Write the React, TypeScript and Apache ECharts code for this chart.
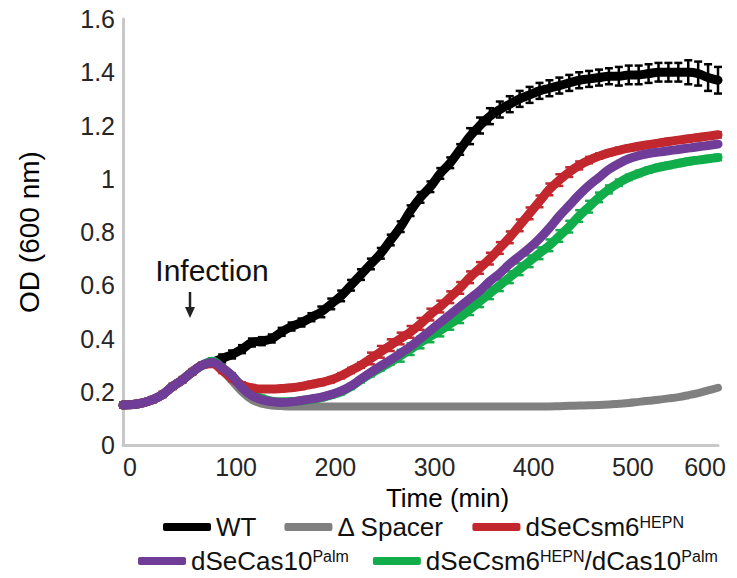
import React, { useEffect, useRef } from "react";
import * as echarts from "echarts";

const timeMin = [
  0, 10, 20, 30, 40, 50, 60, 70, 80, 90, 100, 110, 120, 130, 140, 150, 160, 170, 180, 190,
  200, 210, 220, 230, 240, 250, 260, 270, 280, 290, 300, 310, 320, 330, 340, 350, 360, 370,
  380, 390, 400, 410, 420, 430, 440, 450, 460, 470, 480, 490, 500, 510, 520, 530, 540, 550,
  560, 570, 580, 590, 600,
];

const wt = [
  0.15, 0.152, 0.158, 0.17, 0.19, 0.22, 0.245, 0.275, 0.3, 0.31, 0.325, 0.34, 0.36, 0.385,
  0.39, 0.4, 0.425, 0.445, 0.46, 0.48, 0.5, 0.53, 0.56, 0.6, 0.64, 0.68, 0.72, 0.77, 0.82,
  0.88, 0.93, 0.97, 1.02, 1.06, 1.11, 1.16, 1.2, 1.235, 1.26, 1.28, 1.3, 1.315, 1.33, 1.34,
  1.35, 1.36, 1.37, 1.375, 1.38, 1.385, 1.385, 1.39, 1.39, 1.395, 1.4, 1.4, 1.4, 1.4, 1.395,
  1.38, 1.37,
];
const wtErr = [
  0.006, 0.006, 0.006, 0.006, 0.006, 0.006, 0.006, 0.006, 0.006, 0.015, 0.015, 0.015, 0.015,
  0.015, 0.015, 0.015, 0.015, 0.015, 0.015, 0.015, 0.02, 0.02, 0.02, 0.02, 0.02, 0.02, 0.02,
  0.02, 0.02, 0.02, 0.02, 0.02, 0.02, 0.02, 0.02, 0.03, 0.03, 0.03, 0.03, 0.03, 0.03, 0.03,
  0.03, 0.03, 0.03, 0.03, 0.03, 0.03, 0.03, 0.03, 0.035, 0.035, 0.035, 0.035, 0.035, 0.035,
  0.035, 0.045, 0.045, 0.05, 0.05,
];
const spacer = [
  0.15, 0.152, 0.158, 0.17, 0.19, 0.22, 0.245, 0.275, 0.3, 0.305, 0.28, 0.24, 0.2, 0.17, 0.155,
  0.148, 0.146, 0.145, 0.145, 0.145, 0.145, 0.145, 0.145, 0.145, 0.145, 0.145, 0.145, 0.145,
  0.145, 0.145, 0.145, 0.145, 0.145, 0.145, 0.145, 0.145, 0.145, 0.145, 0.145, 0.145, 0.145,
  0.145, 0.145, 0.145, 0.146, 0.147, 0.148, 0.149, 0.15, 0.152, 0.155, 0.158, 0.162, 0.166,
  0.17, 0.175, 0.18, 0.187, 0.195, 0.205, 0.215,
];
const csm6 = [
  0.15, 0.152, 0.158, 0.17, 0.19, 0.22, 0.245, 0.275, 0.3, 0.305, 0.28, 0.25, 0.225, 0.215,
  0.21, 0.21, 0.212, 0.215, 0.22, 0.228, 0.235, 0.245, 0.26, 0.28, 0.3, 0.325, 0.35, 0.375,
  0.4, 0.425, 0.455, 0.49, 0.52, 0.555, 0.59, 0.63, 0.665, 0.7, 0.74, 0.78, 0.825, 0.87, 0.915,
  0.96, 0.995, 1.025, 1.05, 1.07, 1.085, 1.097, 1.107, 1.115, 1.122, 1.128, 1.134, 1.14, 1.145,
  1.15, 1.155, 1.16, 1.165,
];
const csm6Err = [
  0.01, 0.01, 0.01, 0.01, 0.01, 0.01, 0.01, 0.01, 0.01, 0.01, 0.01, 0.01, 0.01, 0.01, 0.01,
  0.01, 0.01, 0.01, 0.01, 0.01, 0.01, 0.01, 0.01, 0.01, 0.01, 0.022, 0.022, 0.022, 0.022,
  0.022, 0.022, 0.022, 0.022, 0.022, 0.022, 0.022, 0.022, 0.022, 0.022, 0.022, 0.022, 0.022,
  0.022, 0.022, 0.022, 0.018, 0.015, 0.012, 0.01, 0.01, 0.01, 0.01, 0.01, 0.01, 0.01, 0.01,
  0.01, 0.01, 0.01, 0.01, 0.01,
];
const cas10 = [
  0.15, 0.152, 0.158, 0.17, 0.19, 0.22, 0.245, 0.275, 0.3, 0.31, 0.29, 0.26, 0.215, 0.185,
  0.17, 0.163, 0.16, 0.162, 0.167, 0.173, 0.18, 0.19, 0.203, 0.222, 0.248, 0.273, 0.297,
  0.32, 0.345, 0.37, 0.4, 0.43, 0.46, 0.49, 0.52, 0.55, 0.58, 0.615, 0.645, 0.68, 0.71, 0.74,
  0.775, 0.815, 0.86, 0.9, 0.94, 0.975, 1.005, 1.035, 1.057, 1.075, 1.087, 1.095, 1.1, 1.105,
  1.11, 1.115, 1.12, 1.125, 1.13,
];
const double = [
  0.15, 0.152, 0.158, 0.17, 0.19, 0.22, 0.245, 0.275, 0.3, 0.315, 0.29, 0.26, 0.22, 0.19,
  0.175, 0.165, 0.162, 0.163, 0.167, 0.172, 0.178, 0.188, 0.2, 0.22, 0.245, 0.268, 0.29, 0.312,
  0.335, 0.36, 0.385, 0.408, 0.43, 0.455, 0.48, 0.51, 0.54, 0.57, 0.6, 0.63, 0.66, 0.69, 0.72,
  0.75, 0.785, 0.82, 0.86, 0.895, 0.93, 0.96, 0.985, 1.005, 1.02, 1.033, 1.043, 1.05, 1.058,
  1.065, 1.07, 1.075, 1.08,
];
const doubleErr = [
  0.01, 0.01, 0.01, 0.01, 0.01, 0.01, 0.01, 0.01, 0.01, 0.01, 0.01, 0.01, 0.01, 0.01, 0.01,
  0.01, 0.01, 0.01, 0.01, 0.01, 0.01, 0.01, 0.01, 0.01, 0.01, 0.01, 0.01, 0.01, 0.022, 0.022,
  0.022, 0.022, 0.022, 0.022, 0.022, 0.022, 0.022, 0.022, 0.022, 0.022, 0.022, 0.022, 0.022,
  0.022, 0.022, 0.022, 0.022, 0.022, 0.018, 0.015, 0.012, 0.01, 0.01, 0.01, 0.01, 0.01, 0.01,
  0.01, 0.01, 0.01, 0.01,
];

const xTicks = [0, 100, 200, 300, 400, 500, 600];
const yTicks = [0, 0.2, 0.4, 0.6, 0.8, 1, 1.2, 1.4, 1.6];

const seriesNames = ["WT", "ΔSpacer", "dSeCsm6HEPN", "dSeCas10Palm", "dSeCsm6HEPN/dCas10Palm"];
const legendRich: Record<string, string> = {
  WT: "{n|WT}",
  "ΔSpacer": "{n|Δ Spacer}",
  dSeCsm6HEPN: "{n|dSeCsm6}{s|HEPN}",
  dSeCas10Palm: "{n|dSeCas10}{s|Palm}",
  "dSeCsm6HEPN/dCas10Palm": "{n|dSeCsm6}{s|HEPN}{n|/dCas10}{s|Palm}",
};

const FONT = "'Liberation Sans', Arial, sans-serif";
const COLORS = {
  wt: "#000000",
  spacer: "#808080",
  csm6: "#c1272d",
  cas10: "#6f3c98",
  double: "#12ad4b",
};

function errorSeries(name: string, vals: number[], errs: number[], color: string, z: number) {
  return {
    type: "custom",
    name,
    z,
    silent: true,
    data: timeMin.map((t, i) => [t, vals[i] - errs[i], vals[i] + errs[i]]),
    encode: { x: 0, y: [1, 2] },
    renderItem: (_params: any, api: any) => {
      const x = api.value(0);
      const lo = api.coord([x, api.value(1)]);
      const hi = api.coord([x, api.value(2)]);
      const w = 4;
      const style = { stroke: color, lineWidth: 2.5 };
      return {
        type: "group",
        children: [
          { type: "line", shape: { x1: lo[0], y1: lo[1], x2: hi[0], y2: hi[1] }, style },
          { type: "line", shape: { x1: lo[0] - w, y1: lo[1], x2: lo[0] + w, y2: lo[1] }, style },
          { type: "line", shape: { x1: hi[0] - w, y1: hi[1], x2: hi[0] + w, y2: hi[1] }, style },
        ],
      };
    },
  };
}

function lineSeries(name: string, vals: number[], color: string, width: number, z: number) {
  return {
    type: "line",
    name,
    z,
    data: timeMin.map((t, i) => [t, vals[i]]),
    showSymbol: false,
    smooth: 0.4,
    color,
    lineStyle: { color, width, cap: "round", join: "round" },
  };
}

export default function App() {
  const ref = useRef<HTMLDivElement>(null);
  useEffect(() => {
    if (!ref.current) return;
    const chart = echarts.init(ref.current, undefined, { renderer: "svg" });
    const legendText = {
      fontFamily: FONT,
      color: "#111",
      rich: {
        n: { fontSize: 26, fontFamily: FONT, color: "#111" },
        s: { fontSize: 16, fontFamily: FONT, color: "#111", verticalAlign: "top", padding: [0, 0, 8, 0] },
      },
    };
    const legendBase = {
      orient: "horizontal",
      icon: "roundRect",
      itemWidth: 48,
      itemHeight: 8,
      padding: 0,
      width: 620,
      selectedMode: false,
      formatter: (n: string) => legendRich[n],
      textStyle: legendText,
    };
    chart.setOption({
      animation: false,
      backgroundColor: "#ffffff",
      grid: { left: 123, right: 19, top: 19, bottom: 133, containLabel: false },
      xAxis: {
        type: "value",
        min: 0,
        max: 600,
        interval: 100,
        name: "Time (min)",
        nameLocation: "middle",
        nameGap: 40,
        nameTextStyle: { fontFamily: FONT, fontSize: 26, color: "#000", padding: [0, 0, 0, 54] },
        axisLine: { show: true, lineStyle: { color: "#c8c8c8", width: 3 } },
        axisTick: { show: false },
        splitLine: { show: false },
        axisLabel: {
          fontFamily: FONT,
          fontSize: 25,
          color: "#262626",
          margin: 9,
          formatter: (v: number) => {
            if (!xTicks.includes(v)) return "";
            if (v === 0) return "{z|0}";
            if (v === 600) return "{m|600}";
            return "{a|" + v + "}";
          },
          rich: {
            z: { fontFamily: FONT, fontSize: 25, color: "#262626", padding: [0, 0, 0, 14] },
            a: { fontFamily: FONT, fontSize: 25, color: "#262626", padding: [0, 0, 0, 28] },
            m: { fontFamily: FONT, fontSize: 25, color: "#262626", padding: [0, 26, 0, 0] },
          },
        },
      },
      yAxis: {
        type: "value",
        min: 0,
        max: 1.6,
        interval: 0.2,
        name: "OD (600 nm)",
        nameLocation: "middle",
        nameGap: 80,
        nameTextStyle: { fontFamily: FONT, fontSize: 28, color: "#000" },
        axisLine: { show: true, lineStyle: { color: "#c8c8c8", width: 3 } },
        axisTick: { show: false },
        splitLine: { show: false },
        axisLabel: {
          fontFamily: FONT,
          fontSize: 25,
          color: "#262626",
          margin: 8,
          formatter: (v: number) => {
            const r = Math.round(v * 10) / 10;
            return yTicks.includes(r) ? String(r) : "";
          },
        },
      },
      legend: [
        { ...legendBase, data: seriesNames.slice(0, 3), left: 163, top: 514, itemGap: 28 },
        { ...legendBase, data: seriesNames.slice(3), left: 138, top: 548, itemGap: 24 },
      ],
      graphic: [
        {
          type: "text",
          x: 212,
          y: 270,
          style: {
            text: "Infection",
            font: "30px " + FONT,
            fill: "#111",
            align: "center",
            verticalAlign: "middle",
          },
        },
        {
          type: "line",
          shape: { x1: 190, y1: 292, x2: 190, y2: 310 },
          style: { stroke: "#222", lineWidth: 2.5 },
        },
        {
          type: "polygon",
          shape: { points: [[185, 307], [195, 307], [190, 318]] },
          style: { fill: "#222" },
        },
      ],
      series: [
        lineSeries(seriesNames[1], spacer, COLORS.spacer, 8, 2),
        errorSeries("WT error", wt, wtErr, COLORS.wt, 3),
        lineSeries(seriesNames[0], wt, COLORS.wt, 9, 3),
        errorSeries("double error", double, doubleErr, COLORS.double, 4),
        lineSeries(seriesNames[4], double, COLORS.double, 9, 4),
        errorSeries("csm6 error", csm6, csm6Err, COLORS.csm6, 5),
        lineSeries(seriesNames[2], csm6, COLORS.csm6, 9, 5),
        lineSeries(seriesNames[3], cas10, COLORS.cas10, 9, 6),
      ],
    });
    return () => chart.dispose();
  }, []);
  return (
    <div
      ref={ref}
      style={{ position: "fixed", left: 0, top: 0, width: 737, height: 578, background: "#fff" }}
    />
  );
}
